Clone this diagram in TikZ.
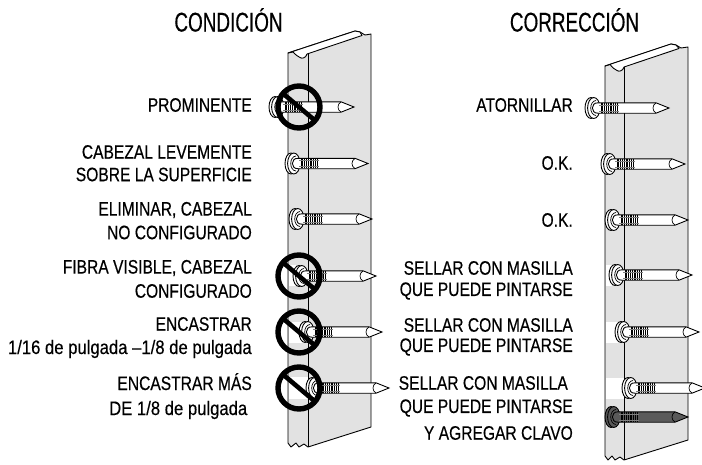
\documentclass[tikz,border=0pt]{standalone}
\usepackage{fontspec}
\setmainfont[FakeStretch=0.8,FakeBold=0.35]{Liberation Sans}
\newfontfamily\titlefont[FakeStretch=0.70,FakeBold=0.35]{Liberation Sans}
\newfontfamily\widefont[FakeStretch=0.855,FakeBold=0.35]{Liberation Sans}
\definecolor{boardgray}{HTML}{E2E2E2}
\definecolor{darknail}{HTML}{5A5A5A}
\newcommand{\nailat}[4]{%
  \begin{scope}[shift={(#1,#2)},line width=0.9pt,fill=#4,draw=black]
    \filldraw (6,0) ellipse [x radius=6,y radius=10.5];
    \filldraw (8.8,0) ellipse [x radius=6.2,y radius=10.5];
    \draw[line width=0.7pt] (11,-7.5) .. controls (4,-7) and (4,7) .. (11,7.5);
    \filldraw (#3-13,-5.2) -- (13,-5.2) .. controls (5.5,-5.5) and (5.5,5.5) .. (13,5.2) -- (#3-13,5.2) -- (#3,0) -- cycle;
    \draw[line width=0.7pt] (#3-13,-5.2) .. controls (#3-17,-3) and (#3-17,3) .. (#3-13,5.2);
    \draw[line width=0.85pt] (16,-4.7) -- (16,4.7) (17.8,-4.7) -- (17.8,4.7) (19.6,-4.7) -- (19.6,4.7)
      (21.4,-4.7) -- (21.4,4.7) (23.2,-4.7) -- (23.2,4.7) (25,-4.7) -- (25,4.7) (26.8,-4.7) -- (26.8,4.7)
      (28.6,-4.7) -- (28.6,4.7) (30.4,-4.7) -- (30.4,4.7) (32.2,-4.7) -- (32.2,4.7);
    \draw[line width=0.6pt,draw=gray] (14,-3) -- (34,-3) (14,3) -- (34,3);
  \end{scope}}
\newcommand{\nosign}[2]{%
  \draw[line width=5.4pt] (#1,#2) circle [radius=21];
  \draw[line width=4.6pt] (#1-16,#2-13.5) -- (#1+16,#2+13.5);}
\tikzset{x=1pt,y=-1pt,
  board/.style={fill=boardgray,draw=black,line width=0.9pt,line join=round},
  fold/.style={draw=black,line width=0.9pt},
  lab/.style={inner sep=0pt,font=\fontsize{19.5}{22}\selectfont,anchor=east},
  title/.style={inner sep=0pt,font=\titlefont\fontsize{27}{30}\selectfont,anchor=base}}
\begin{document}
\begin{tikzpicture}
\useasboundingbox (0,0) rectangle (702,464);
\fill[white] (0,0) rectangle (702,464);
% left board
\path[board] (288,53) -- (355,31) -- (360,32) -- (365,35) -- (371,34) -- (371,427) -- (308,447)
  -- (304,444) -- (299,447) -- (296,443) -- (291,447) -- (288,443) -- cycle;
\draw[board,fill=white] (288,53) -- (355,31) -- (360,32) -- (362,35.5) -- (307,54) .. controls (306,58) and (302,59) .. (300,57.5) .. controls (297,56) and (296,55) .. (293,52) -- cycle;
\draw[fold] (308,53.5) -- (308,447);
\fill[white] (289,265) rectangle (296,286);
\fill[white] (289,322) rectangle (307.5,343);
\fill[white] (289,377) rectangle (307.5,399);
\nailat{269}{107}{85}{white}
\nailat{285}{163.5}{83}{white}
\nailat{289}{219}{83}{white}
\nailat{293}{276}{83}{white}
\nailat{299}{332}{83}{white}
\nailat{306}{388}{83}{white}
\nosign{299}{107}
\nosign{299}{276}
\nosign{299}{332}
\nosign{299}{388}
% right board
\path[board] (605,66) -- (671,44) -- (676,45) -- (681,48) -- (688,47) -- (688,440) -- (624,460)
  -- (620,457) -- (615,460) -- (612,456) -- (608,460) -- (605,456) -- cycle;
\draw[board,fill=white] (605,66) -- (671,44) -- (676,45) -- (679,48.5) -- (624,67) .. controls (623,71) and (619,72) .. (617,70.5) .. controls (614,69) and (613,68) .. (610,64.5) -- cycle;
\draw[fold] (624,67) -- (624,460);
\fill[white] (606,265) rectangle (612,286);
\fill[white] (606,322) rectangle (623.5,343);
\fill[white] (606,378) rectangle (623.5,399);
\nailat{585}{108}{84}{white}
\nailat{601}{164}{84}{white}
\nailat{605}{220}{83}{white}
\nailat{609}{275}{83}{white}
\nailat{615}{332}{84}{white}
\nailat{622}{388}{83}{white}
\nailat{605}{417}{83}{darknail}
% titles
\node[title] (t1) at (228.5,31.5) {CONDICIÓN};
\node[title] (t2) at (574.5,31.5) {CORRECCIÓN};
% left labels
\node[lab] (a1) at (252,105) {PROMINENTE};
\node[lab] (a2) at (252,152) {CABEZAL LEVEMENTE};
\node[lab] (a3) at (252,174.5) {SOBRE LA SUPERFICIE};
\node[lab] (a4) at (252,210) {ELIMINAR, CABEZAL};
\node[lab] (a5) at (252,232.5) {NO CONFIGURADO};
\node[lab] (a6) at (252,268) {FIBRA VISIBLE, CABEZAL};
\node[lab] (a7) at (252,291) {CONFIGURADO};
\node[lab] (a8) at (252,324) {ENCASTRAR};
\node[lab,font=\widefont\fontsize{19.5}{22}\selectfont,anchor=base east] (a9) at (252,354) {1/16 de pulgada –1/8 de pulgada};
\node[lab,anchor=base east] (a10) at (252,390) {ENCASTRAR MÁS};
\node[lab,font=\widefont\fontsize{19.5}{22}\selectfont,anchor=base east] (a11) at (247.5,415) {DE 1/8 de pulgada};
% right labels
\node[lab] (b1) at (573,105) {ATORNILLAR};
\node[lab] (b2) at (573,163) {O.K.};
\node[lab] (b3) at (573,220) {O.K.};
\node[lab] (b4) at (573,268) {SELLAR CON MASILLA};
\node[lab] (b5) at (573,291) {QUE PUEDE PINTARSE};
\node[lab] (b6) at (573,325) {SELLAR CON MASILLA};
\node[lab] (b7) at (573,347) {QUE PUEDE PINTARSE};
\node[lab] (b8) at (568,383) {SELLAR CON MASILLA};
\node[lab] (b9) at (573,408) {QUE PUEDE PINTARSE};
\node[lab] (b10) at (573,433) {Y AGREGAR CLAVO};
\end{tikzpicture}
\end{document}
